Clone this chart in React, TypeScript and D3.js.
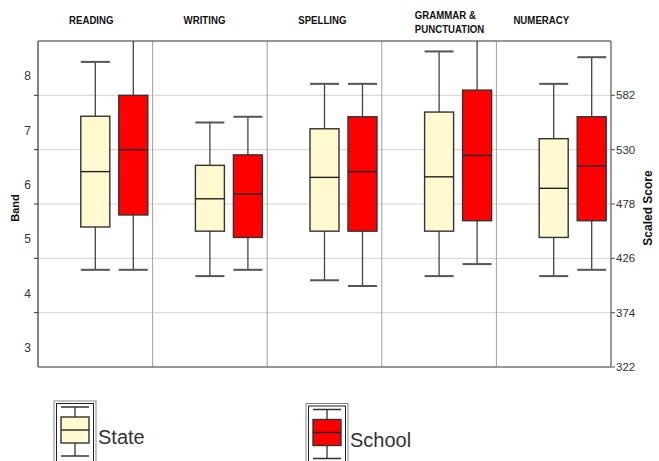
import React from "react";
import * as d3 from "d3";

// ---- data ----
const subjects = ["READING", "WRITING", "SPELLING", "GRAMMAR & PUNCTUATION", "NUMERACY"];
const subjectTitleLines = [["READING"], ["WRITING"], ["SPELLING"], ["GRAMMAR &", "PUNCTUATION"], ["NUMERACY"]];

const stateMin = [415, 409, 405, 409, 409];
const stateQ1 = [456, 452, 452, 452, 446];
const stateMedian = [509, 483, 503.5, 504, 493];
const stateQ3 = [562, 515, 550, 566, 540.5];
const stateMax = [614, 556, 593, 624, 593];

const schoolMin = [415, 415, 399.5, 420.5, 415];
const schoolQ1 = [467.5, 446, 452, 462, 462];
const schoolMedian = [530, 487.5, 509, 524.5, 514.5];
const schoolQ3 = [582, 525, 561.5, 587, 561.5];
const schoolMax = [650, 561.5, 593, 650, 618.5];

const scoreTicks = [322, 374, 426, 478, 530, 582];
const bandLabels = [3, 4, 5, 6, 7, 8];
const seriesNames = ["State", "School"];
const seriesColors = ["#FFF9CF", "#FF0000"];

// ---- layout ----
const W = 659;
const H = 461;
const L = 38, R = 611, T = 41, B = 367;
const titleDx = [31, 31, 31, 33, 17];
const boxW = 29;
const schoolOffset = 38;

export default function App() {
  const y = d3.scaleLinear().domain([322, 634]).range([B, T]);
  const x = d3.scaleBand<string>().domain(subjects).range([L, R]).padding(0);
  const bw = x.bandwidth();

  const series = [
    { min: stateMin, q1: stateQ1, med: stateMedian, q3: stateQ3, max: stateMax, dx: 0, color: seriesColors[0] },
    { min: schoolMin, q1: schoolQ1, med: schoolMedian, q3: schoolQ3, max: schoolMax, dx: schoolOffset, color: seriesColors[1] },
  ];

  const font = "'Liberation Sans', Arial, sans-serif";

  const legendX = [54, 306];
  const legendDy = [0, 2.5];

  return (
    <svg width={W} height={H} style={{ position: "absolute", left: 0, top: 0, background: "#fff" }}>
      <defs>
        <clipPath id="plotclip">
          <rect x={L} y={T} width={R - L} height={B - T} />
        </clipPath>
      </defs>

      {/* grid */}
      {scoreTicks.filter((t) => t > 322).map((t) => (
        <line key={"g" + t} x1={L} x2={R} y1={y(t)} y2={y(t)} stroke="#d2d2d2" strokeWidth={1} />
      ))}

      {/* panel separators */}
      {subjects.slice(1).map((s) => (
        <line key={"sep" + s} x1={x(s)!} x2={x(s)!} y1={T} y2={B} stroke="#a0a0a0" strokeWidth={1} />
      ))}

      {/* boxes */}
      <g clipPath="url(#plotclip)">
        {subjects.map((s, i) =>
          series.map((sr, k) => {
            const cx = x(s)! + bw / 2 + sr.dx;
            const x0 = cx - boxW / 2;
            return (
              <g key={s + k}>
                <line x1={cx} x2={cx} y1={y(sr.max[i])} y2={y(sr.q3[i])} stroke="#444" strokeWidth={1.3} />
                <line x1={cx} x2={cx} y1={y(sr.q1[i])} y2={y(sr.min[i])} stroke="#444" strokeWidth={1.3} />
                <line x1={x0} x2={x0 + boxW} y1={y(sr.max[i])} y2={y(sr.max[i])} stroke="#555" strokeWidth={2} />
                <line x1={x0} x2={x0 + boxW} y1={y(sr.min[i])} y2={y(sr.min[i])} stroke="#555" strokeWidth={2} />
                <rect x={x0} y={y(sr.q3[i])} width={boxW} height={y(sr.q1[i]) - y(sr.q3[i])} fill={sr.color} stroke="#333" strokeWidth={1.4} />
                <line x1={x0} x2={x0 + boxW} y1={y(sr.med[i])} y2={y(sr.med[i])} stroke="#222" strokeWidth={1.4} />
              </g>
            );
          })
        )}
      </g>

      {/* frame */}
      <line x1={L} x2={R} y1={T} y2={T} stroke="#333" strokeWidth={1.2} />
      <line x1={L} x2={R} y1={B} y2={B} stroke="#333" strokeWidth={1.2} />
      <line x1={L} x2={L} y1={T} y2={B} stroke="#333" strokeWidth={1.2} />
      <line x1={R} x2={R} y1={T} y2={B} stroke="#555" strokeWidth={1.2} />

      {/* left ticks & band labels */}
      {scoreTicks.filter((t) => t > 322).map((t) => (
        <line key={"lt" + t} x1={L - 4} x2={L} y1={y(t)} y2={y(t)} stroke="#333" strokeWidth={1} />
      ))}
      {bandLabels.map((b) => (
        <text key={"bl" + b} x={31} y={y(322 + 52 * (b - 3) + 26) + 8} dy="0.35em" textAnchor="end"
          fontFamily={font} fontSize={12} fill="#333">{b}</text>
      ))}

      {/* right ticks & labels */}
      {scoreTicks.map((t) => (
        <g key={"rt" + t}>
          <line x1={R} x2={R + 4} y1={y(t)} y2={y(t)} stroke="#555" strokeWidth={1} />
          <text x={R + 5} y={y(t)} dy="0.35em" fontFamily={font} fontSize={11.5} fill="#333">{t}</text>
        </g>
      ))}

      {/* axis titles */}
      <text transform={`translate(19,208) rotate(-90)`} textAnchor="middle" fontFamily={font} fontWeight="bold" fontSize={11} fill="#111">Band</text>
      <text transform={`translate(652,208) rotate(-90)`} textAnchor="middle" fontFamily={font} fontWeight="bold" fontSize={12} fill="#111">Scaled Score</text>

      {/* panel titles */}
      {subjects.map((s, i) => {
        const lines = subjectTitleLines[i];
        const y0 = lines.length > 1 ? 19 : 24;
        return (
          <g key={"t" + s} transform={`translate(${x(s)! + titleDx[i]},${y0}) scale(0.84,1)`}>
            <text x={0} y={0} fontFamily={font} fontWeight="bold" fontSize={11.5} fill="#111">
              {lines.map((ln, j) => (
                <tspan key={j} x={0} dy={j === 0 ? 0 : 14}>{ln}</tspan>
              ))}
            </text>
          </g>
        );
      })}

      {/* legend */}
      {seriesNames.map((n, k) => {
        const lx = legendX[k];
        const dy = legendDy[k];
        const cx = lx + 21;
        return (
          <g key={"lg" + n}>
            <rect x={lx} y={401 + dy} width={42} height={80} fill="#fff" stroke="#888" strokeWidth={1} />
            <rect x={lx + 2.5} y={403.5 + dy} width={37} height={80} fill="none" stroke="#222" strokeWidth={1} />
            <line x1={cx} x2={cx} y1={407 + dy} y2={456 + dy} stroke="#333" strokeWidth={1.3} />
            <line x1={cx - 14} x2={cx + 14} y1={407 + dy} y2={407 + dy} stroke="#333" strokeWidth={1.5} />
            <line x1={cx - 14} x2={cx + 14} y1={456 + dy} y2={456 + dy} stroke="#333" strokeWidth={1.5} />
            <rect x={cx - 14} y={417 + dy} width={28} height={26} fill={seriesColors[k]} stroke="#333" strokeWidth={1.4} />
            <line x1={cx - 14} x2={cx + 14} y1={430 + dy} y2={430 + dy} stroke="#222" strokeWidth={1.4} />
            <text x={lx + 44} y={444 + dy} fontFamily={font} fontSize={20} fill="#333">{n}</text>
          </g>
        );
      })}
    </svg>
  );
}
